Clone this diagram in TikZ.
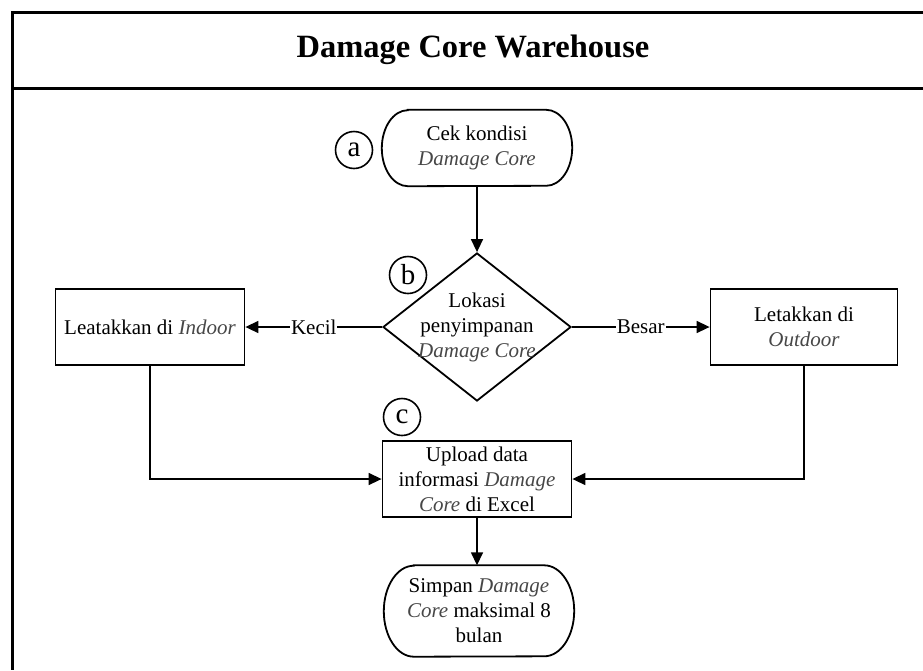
\documentclass[tikz,border=0pt]{standalone}
\usepackage{fontspec}
\setmainfont{Liberation Serif}
\usetikzlibrary{arrows.meta,shapes.geometric}
\newcommand\ital[1]{\textcolor{black!72}{\textit{#1}}}
\tikzset{
  frameline/.style={line width=3pt},
  box/.style={draw, line width=1.8pt, minimum width=189pt, minimum height=76pt, align=center, font=\fontsize{21}{25}\selectfont, inner sep=2pt},
  term/.style={minimum width=190pt, minimum height=76pt, align=center, font=\fontsize{21}{25}\selectfont, inner sep=2pt},
  decis/.style={draw, diamond, line width=1.8pt, minimum width=188pt, minimum height=148pt, inner sep=0pt},
  txt/.style={align=center, font=\fontsize{21}{25}\selectfont},
  circ/.style={draw, circle, line width=1.6pt, minimum size=37pt, inner sep=0pt, font=\fontsize{29}{29}\selectfont},
  conn/.style={line width=1.5pt, -{Triangle[length=13pt,width=12pt]}},
  lab/.style={fill=white, inner sep=1pt, font=\fontsize{21}{24}\selectfont},
  outline/.style={line width=1.8pt}
}
\begin{document}
\begin{tikzpicture}[x=1pt,y=1pt]
\useasboundingbox (0,0) rectangle (923,-670);
% frame
\draw[frameline] (923,-12) -- (12,-12) -- (12,-670);
\draw[frameline] (12,-88) -- (923,-88);
\node[font=\fontsize{32.5}{32.5}\selectfont\bfseries] (title) at (473,-50) {Damage Core Warehouse};

% start terminal
\node[term] (a) at (477,-148) {Cek kondisi\\ \ital{Damage Core}};
\draw[outline] ([xshift=26pt]a.north west) -- ([xshift=-26pt]a.north east)
  arc[start angle=90,end angle=-90,x radius=26pt,y radius=38pt]
  -- ([xshift=26pt]a.south west)
  arc[start angle=270,end angle=90,x radius=26pt,y radius=38pt] -- cycle;
\node[circ] (ca) at (354,-150) {a};

% decision
\node[decis] (b) at (477,-327) {};
\node[txt] (btext) at (477,-327) {Lokasi\\ penyimpanan\\ \ital{Damage Core}};
\node[circ] (cb) at (408,-275) {b};

% side boxes
\node[box] (L) at (150,-327) {Leatakkan di \ital{Indoor}};
\node[box, minimum width=187pt] (R) at (804,-327) {Letakkan di\\ \ital{Outdoor}};

% upload box
\node[box] (c) at (477,-479) {Upload data\\ informasi \ital{Damage}\\ \ital{Core} di Excel};
\node[circ] (cc) at (402,-417) {c};

% end terminal
\node[term, minimum height=91pt] (e) at (479,-611) {Simpan \ital{Damage}\\ \ital{Core} maksimal 8\\ bulan};
\draw[outline] ([xshift=30pt]e.north west) -- ([xshift=-30pt]e.north east)
  arc[start angle=90,end angle=-90,x radius=30pt,y radius=45.5pt]
  -- ([xshift=30pt]e.south west)
  arc[start angle=270,end angle=90,x radius=30pt,y radius=45.5pt] -- cycle;

% connectors
\draw[conn] (a.south) -- (b.north);
\draw[conn] (b.west) -- node[lab] (kecil) {Kecil} (L.east);
\draw[conn] (b.east) -- node[lab] (besar) {Besar} (R.west);
\draw[conn] (L.south) |- (c.west);
\draw[conn] (R.south) |- (c.east);
\draw[conn] (c.south) -- (c.south |- e.north);
\end{tikzpicture}
\end{document}
